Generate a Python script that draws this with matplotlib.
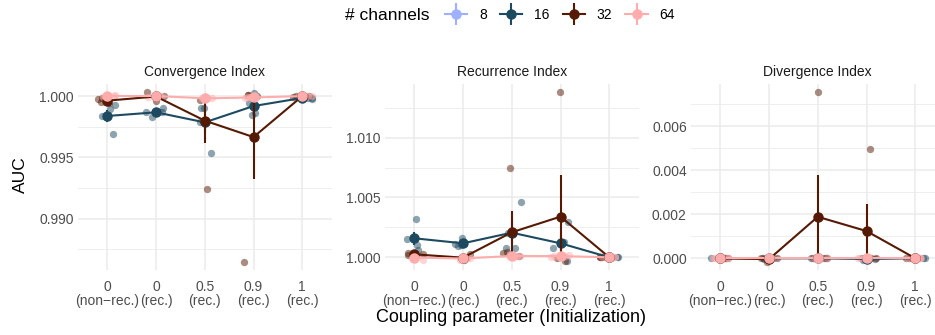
import numpy as np
import matplotlib.pyplot as plt
from matplotlib.lines import Line2D
from matplotlib.ticker import MultipleLocator, FormatStrFormatter

plt.rcParams['font.family'] = ['Liberation Sans', 'DejaVu Sans']

# x categories (coupling parameter / initialization)
cats = ['0\n(non\u2212rec.)', '0\n(rec.)', '0.5\n(rec.)', '0.9\n(rec.)', '1\n(rec.)']
channels = ['8', '16', '32', '64']
colors = ['#9EB0FF', '#1D4A60', '#561A04', '#FFACAC']

# AUC per run (4 runs per setting), one row per category; no runs for 8 channels
conv_8 = []
conv_16 = [[0.99894, 0.99927, 0.99690, 0.99837], [0.99826, 0.99905, 0.99870, 0.99867],
           [0.99538, 0.99905, 0.99905, 0.99792], [0.99940, 0.99845, 1.00022, 0.99865],
           [0.99975, 0.99985, 0.99990, 0.99986]]
conv_32 = [[0.99981, 0.99950, 0.99940, 0.99977], [1.00035, 0.99962, 0.99990, 0.99997],
           [0.99241, 0.99995, 0.99990, 0.99970], [0.98649, 1.00005, 1.00000, 1.00006],
           [1.00000, 0.99995, 1.00002, 0.99998]]
conv_64 = [[0.99995, 1.00005, 0.99998, 1.00002], [1.00000, 1.00003, 0.99995, 1.00002],
           [0.99975, 0.99985, 0.99980, 0.99984], [0.99985, 0.99990, 0.99988, 0.99989],
           [0.99998, 1.00000, 1.00001, 0.99999]]

rec_8 = []
rec_16 = [[1.00318, 1.00103, 1.00061, 1.00154], [1.00164, 1.00094, 1.00100, 1.00110],
          [1.00460, 1.00080, 1.00080, 1.00204], [1.00293, 1.00130, 1.00075, 0.99970],
          [1.00000, 1.00000, 0.99998, 1.00002]]
rec_32 = [[1.00039, 1.00025, 1.00020, 1.00016], [1.00025, 0.99990, 0.99980, 0.99993],
          [1.00744, 1.00042, 1.00040, 1.00010], [1.01380, 1.00020, 0.99990, 0.99970],
          [1.00000, 1.00000, 1.00000, 0.99999]]
rec_64 = [[0.99977, 1.00000, 1.00010, 1.00003], [0.99990, 0.99975, 1.00000, 0.99995],
          [1.00010, 1.00012, 1.00010, 1.00012], [1.00010, 1.00020, 1.00000, 1.00010],
          [1.00000, 1.00000, 1.00000, 1.00000]]

div_8 = []
div_16 = [[0.0, 0.0, 0.0, 0.0], [0.0, -0.00002, 0.0, 0.00001], [0.0, 0.0, 0.0, 0.0],
          [-0.00008, 0.0, -0.00005, 0.0], [0.0, 0.0, 0.0, 0.0]]
div_32 = [[0.0, 0.0, 0.0, 0.0], [-0.00018, 0.0, 0.0, 0.00002], [0.00753, 0.0, 0.0, 0.0],
          [0.00494, 0.0, 0.0, 0.0], [0.0, 0.0, 0.0, 0.0]]
div_64 = [[0.0, 0.0, 0.0, 0.0], [0.0, 0.0, 0.0, 0.0], [0.0, 0.0, 0.0, 0.0],
          [0.0, 0.0, 0.0, 0.0], [0.0, 0.0, 0.0, 0.0]]

panels = [
    ('Convergence Index', [conv_8, conv_16, conv_32, conv_64], (0.985808, 1.000979), 0.005),
    ('Recurrence Index', [rec_8, rec_16, rec_32, rec_64], (0.998938, 1.014490), 0.005),
    ('Divergence Index', [div_8, div_16, div_32, div_64], (-0.000531, 0.007905), 0.002),
]

W, H = 935, 335
fig = plt.figure(figsize=(W / 100, H / 100), dpi=100)
lefts = [78, 385, 691]
pw = 253.5
top_px, bot_px = 84, 270

rng = np.random.default_rng(7)
xs = np.arange(1, len(cats) + 1)

for left, (title, groups, ylim, step) in zip(lefts, panels):
    ax = fig.add_axes([left / W, 1 - bot_px / H, pw / W, (bot_px - top_px) / H])
    ax.set_xlim(0.4, 5.6)
    ax.set_ylim(*ylim)
    ax.yaxis.set_major_locator(MultipleLocator(step))
    ax.yaxis.set_minor_locator(MultipleLocator(step / 2))
    ax.yaxis.set_major_formatter(FormatStrFormatter('%.3f'))
    ax.set_xticks(xs, cats)
    for lab in ax.get_xticklabels():
        lab.set_linespacing(1.0)
    ax.grid(which='major', color='#EBEBEB', lw=1.1)
    ax.grid(which='minor', axis='y', color='#EBEBEB', lw=0.6)
    ax.set_axisbelow(True)
    for s in ax.spines.values():
        s.set_visible(False)
    ax.tick_params(which='both', length=0, labelsize=10, labelcolor='#4D4D4D')
    ax.tick_params(axis='x', pad=7)
    ax.tick_params(axis='y', pad=3)
    ax.set_title(title, fontsize=10, color='#1A1A1A', pad=6)

    series = [(np.array(g, dtype=float), c) for g, c in zip(groups, colors) if len(g)]
    # raw runs, jittered
    for g, c in series:
        for j, x in enumerate(xs):
            jx = x + rng.uniform(-0.2, 0.2, g.shape[1])
            ax.scatter(jx, g[j], s=28, color=c, alpha=0.5, lw=0, zorder=2)
    stats = [(g.mean(axis=1), g.std(axis=1, ddof=1) / np.sqrt(g.shape[1]), c)
             for g, c in series]
    for m, se, c in stats:
        ax.plot(xs, m, color=c, lw=1.5, zorder=3)
    # mean +/- standard error
    for m, se, c in stats:
        ax.vlines(xs, m - se, m + se, color=c, lw=1.5, zorder=4)
        ax.plot(xs, m, 'o', ms=6.5, color=c, zorder=4)

fig.text(20 / W, 1 - 175 / H, 'AUC', rotation=90, fontsize=12.5, ha='center', va='center')
fig.text(511 / W, 1 - 318 / H, 'Coupling parameter (Initialization)', fontsize=13,
         ha='center', va='center')

handles = [(Line2D([], [], color=c, lw=1.5, marker='o', ms=6.5),
            Line2D([], [], color=c, lw=0, marker='|', ms=16, mew=1.5)) for c in colors]
fig.text(345 / W, 1 - 15 / H, '# channels', fontsize=12.5, ha='left', va='center')
fig.legend(handles, channels, loc='center left', bbox_to_anchor=(445 / W, 1 - 15 / H),
           ncol=4, frameon=False, borderpad=0, borderaxespad=0, handlelength=1.6,
           handletextpad=0.85, columnspacing=0.95, fontsize=10)

fig.savefig('out.png', dpi=100)
